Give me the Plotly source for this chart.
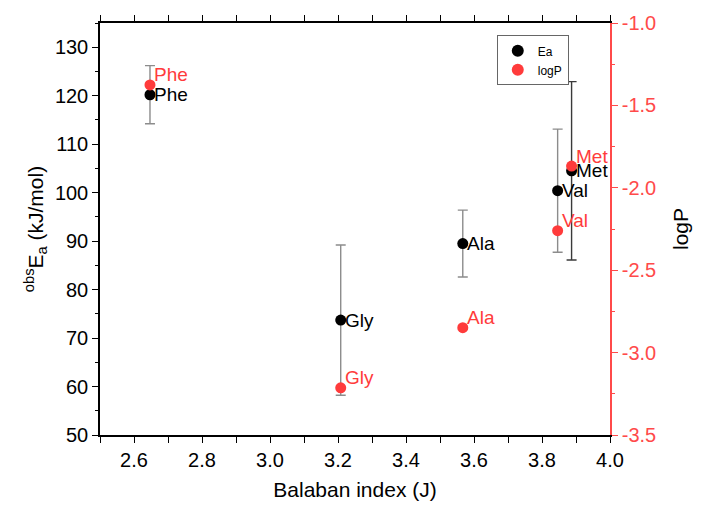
import plotly.graph_objects as go

# Amino acids plotted against their Balaban index
amino_acids = ["Phe", "Gly", "Ala", "Val", "Met"]
balaban_j = [2.647, 3.208, 3.567, 3.846, 3.887]
ea_values = [120.2, 73.7, 89.5, 100.4, 104.5]      # kJ/mol
ea_errors = [6.0, 15.5, 6.9, 12.7, 18.4]
logp_values = [-1.376, -3.214, -2.849, -2.26, -1.868]

logp_ticks = [-3.5, -3.0, -2.5, -2.0, -1.5, -1.0]
logp_ticktext = ["-3.5", "-3.0", "-2.5", "-2.0", "-1.5", "-1.0"]

RED = "#ff3b3b"
AXIS_RED = "#ff4a4a"
FONT = "Liberation Sans, Arial, sans-serif"

fig = go.Figure()

# Ea error bars (Met drawn darker on its own)
for idx, col in [([0, 1, 2, 3], "#8c8c8c"), ([4], "#3a3a3a")]:
    fig.add_trace(go.Scatter(
        x=[balaban_j[i] for i in idx],
        y=[ea_values[i] for i in idx],
        mode="markers",
        marker=dict(size=1, color="rgba(0,0,0,0)"),
        error_y=dict(type="data", array=[ea_errors[i] for i in idx],
                     color=col, thickness=1.4, width=5),
        showlegend=False, hoverinfo="skip",
    ))

fig.add_trace(go.Scatter(
    x=balaban_j, y=ea_values, name="Ea", mode="markers",
    marker=dict(size=11, color="black"),
))

fig.add_trace(go.Scatter(
    x=balaban_j, y=logp_values, name="logP", yaxis="y2", mode="markers",
    marker=dict(size=11, color=RED),
))

# point labels
for name, xv, ev, lv in zip(amino_acids, balaban_j, ea_values, logp_values):
    fig.add_annotation(x=xv, y=ev, xref="x", yref="y", text=name,
                       showarrow=False, xanchor="left", yanchor="middle",
                       xshift=2, yshift=0,
                       font=dict(size=19, color="black", family=FONT))
    fig.add_annotation(x=xv, y=lv, xref="x", yref="y2", text=name,
                       showarrow=False, xanchor="left", yanchor="middle",
                       xshift=2, yshift=10,
                       font=dict(size=19, color=RED, family=FONT))

fig.update_layout(
    width=701, height=510,
    margin=dict(l=100, r=91, t=21, b=74),
    paper_bgcolor="white", plot_bgcolor="white",
    font=dict(family=FONT, size=20, color="black"),
    xaxis=dict(
        range=[2.5, 4.0], tick0=2.6, dtick=0.2, tickformat=".1f",
        ticks="outside", ticklen=6, tickwidth=1.3, tickcolor="black",
        minor=dict(dtick=0.1, ticks="outside", ticklen=3, tickcolor="black"),
        showline=True, linecolor="black", linewidth=1.5, mirror="allticks",
        showgrid=False, zeroline=False,
        tickfont=dict(size=20),
        title=dict(text="Balaban index (J)", font=dict(size=21), standoff=13),
    ),
    yaxis=dict(
        range=[50, 135], tick0=50, dtick=10,
        ticks="outside", ticklen=6, tickwidth=1.3, tickcolor="black",
        minor=dict(dtick=5, ticks="outside", ticklen=3, tickcolor="black"),
        showline=True, linecolor="black", linewidth=1.5,
        showgrid=False, zeroline=False,
        tickfont=dict(size=20),
        title=dict(text="<sup>obs</sup>E<sub>a</sub> (kJ/mol)", font=dict(size=21), standoff=6),
    ),
    yaxis2=dict(
        range=[-3.5, -1.0], tickmode="array",
        tickvals=logp_ticks, ticktext=logp_ticktext,
        overlaying="y", side="right",
        ticks="outside", ticklen=6, tickwidth=1.3, tickcolor=AXIS_RED,
        minor=dict(dtick=0.25, ticks="outside", ticklen=3, tickcolor=AXIS_RED),
        showline=True, linecolor=AXIS_RED, linewidth=1.5,
        tickfont=dict(color=AXIS_RED, size=20),
        showgrid=False, zeroline=False,
        title=dict(text="logP", font=dict(size=21, color="black"), standoff=18),
    ),
    legend=dict(
        x=0.778, y=0.97, xanchor="left", yanchor="top",
        bgcolor="white", bordercolor="#666", borderwidth=1,
        font=dict(size=12), itemsizing="constant", itemwidth=30,
        tracegroupgap=0,
    ),
)

fig.write_html("out.html")
